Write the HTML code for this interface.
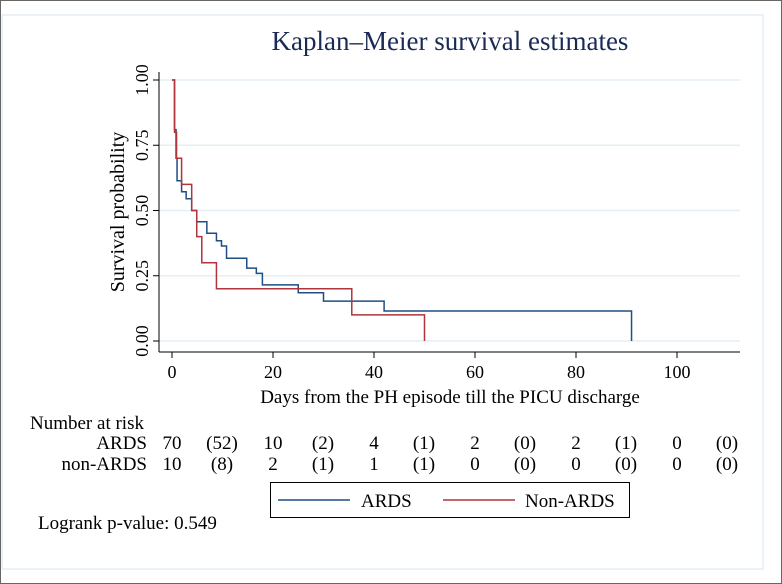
<!DOCTYPE html>
<html><head><meta charset="utf-8"><style>
html,body{margin:0;padding:0;background:#fff}
svg{display:block}
text{font-family:"Liberation Serif",serif;fill:#000}
</style></head><body>
<svg width="782" height="584">
<rect x="0.5" y="0.5" width="781" height="583" fill="#fff" stroke="#666"/>
<rect x="2" y="15" width="761" height="554" fill="#fff" stroke="#e4eef6" stroke-width="1.5"/>
<text x="450" y="50" text-anchor="middle" font-size="27" style="fill:#1a2a55">Kaplan–Meier survival estimates</text>
<g id="grid"></g>
<line x1="159" y1="72" x2="159" y2="352" stroke="#000"/>
<line x1="159" y1="352" x2="740" y2="352" stroke="#000"/>
<g id="yticks"></g><g id="xticks"></g><g id="curves"></g><g id="risk"></g>
<text x="124" y="212" text-anchor="middle" font-size="20" transform="rotate(-90 124 212)">Survival probability</text>
<text x="450" y="403" text-anchor="middle" font-size="19">Days from the PH episode till the PICU discharge</text>
<text x="30" y="429" font-size="19">Number at risk</text>
<rect x="270.5" y="482.5" width="359" height="35" fill="#fff" stroke="#000"/>
<line x1="278" y1="500" x2="350" y2="500" stroke="#1f4e85" stroke-width="1.5"/>
<text x="361" y="507" font-size="19">ARDS</text>
<line x1="443" y1="500" x2="515" y2="500" stroke="#b0343c" stroke-width="1.5"/>
<text x="525" y="507" font-size="19">Non-ARDS</text>
<text x="38" y="529" font-size="19">Logrank p-value: 0.549</text>
</svg>
<script>
const yTicks=[0,0.25,0.5,0.75,1];
const yTickLabels=["0.00","0.25","0.50","0.75","1.00"];
const xTicks=[0,20,40,60,80,100];
const ardsTimes=[0,0.5,0.8,1.0,1.9,2.8,3.9,4.9,6.9,8.8,9.8,10.8,14.8,16.7,17.9,25,30,42,91];
const ardsSurv=[1,0.81,0.70,0.614,0.572,0.545,0.5,0.457,0.413,0.384,0.364,0.317,0.279,0.259,0.215,0.185,0.153,0.115,0];
const nonTimes=[0,0.5,0.9,1.9,3.9,4.9,5.9,8.8,35.6,50];
const nonSurv=[1,0.8,0.7,0.6,0.5,0.4,0.3,0.2,0.1,0];
const riskGroups=["ARDS","non-ARDS"];
const ardsRisk=["70","(52)","10","(2)","4","(1)","2","(0)","2","(1)","0","(0)"];
const nonRisk=["10","(8)","2","(1)","1","(1)","0","(0)","0","(0)","0","(0)"];
const NS="http://www.w3.org/2000/svg";
const X=t=>172+t*5.05, Y=v=>341-v*261;
function mk(tag,a,p){const e=document.createElementNS(NS,tag);for(const k in a)e.setAttribute(k,a[k]);p.appendChild(e);return e;}
const grid=document.getElementById('grid'),yt=document.getElementById('yticks'),xt=document.getElementById('xticks');
yTicks.forEach((v,i)=>{
 const g=mk('line',{x1:159,x2:740,y1:Y(v),y2:Y(v),stroke:'#e6eff5','stroke-width':1.5},grid);
 
 
 const t=mk('line',{x1:153,x2:159,y1:Y(v),y2:Y(v),stroke:'#000'},yt);
 
 
 const l=mk('text',{x:148,y:Y(v),'font-size':18,'text-anchor':'middle',transform:`rotate(-90 148 ${Y(v)})`},yt);
 l.textContent=yTickLabels[i];
 
 
});
xTicks.forEach(v=>{
 const t=mk('line',{x1:X(v),x2:X(v),y1:352,y2:358,stroke:'#000'},xt);
 
 
 const l=mk('text',{x:X(v),y:378,'font-size':18,'text-anchor':'middle'},xt);
 l.textContent=v;
 
 
});
function step(ts,ss){let d=`M${X(ts[0])},${Y(ss[0])}`;for(let i=1;i<ts.length;i++){d+=`H${X(ts[i])}V${Y(ss[i])}`;}return d;}
const cv=document.getElementById('curves');
const pa=mk('path',{d:step(ardsTimes,ardsSurv),fill:'none',stroke:'#1f4e85','stroke-width':1.5},cv);


const pn=mk('path',{d:step(nonTimes,nonSurv),fill:'none',stroke:'#b0343c','stroke-width':1.5},cv);


const rk=document.getElementById('risk');
[ardsRisk,nonRisk].forEach((row,r)=>{
 const y=449+r*21;
 const g=mk('text',{x:147,y:y,'font-size':19,'text-anchor':'end'},rk);
 g.textContent=riskGroups[r];
 
 
 row.forEach((v,i)=>{
  const x=X(Math.floor(i/2)*20)+(i%2?50:0);
  const e=mk('text',{x:x,y:y,'font-size':19,'text-anchor':'middle'},rk);
  e.textContent=v;
  
  
 });
});
</script>
</body></html>
